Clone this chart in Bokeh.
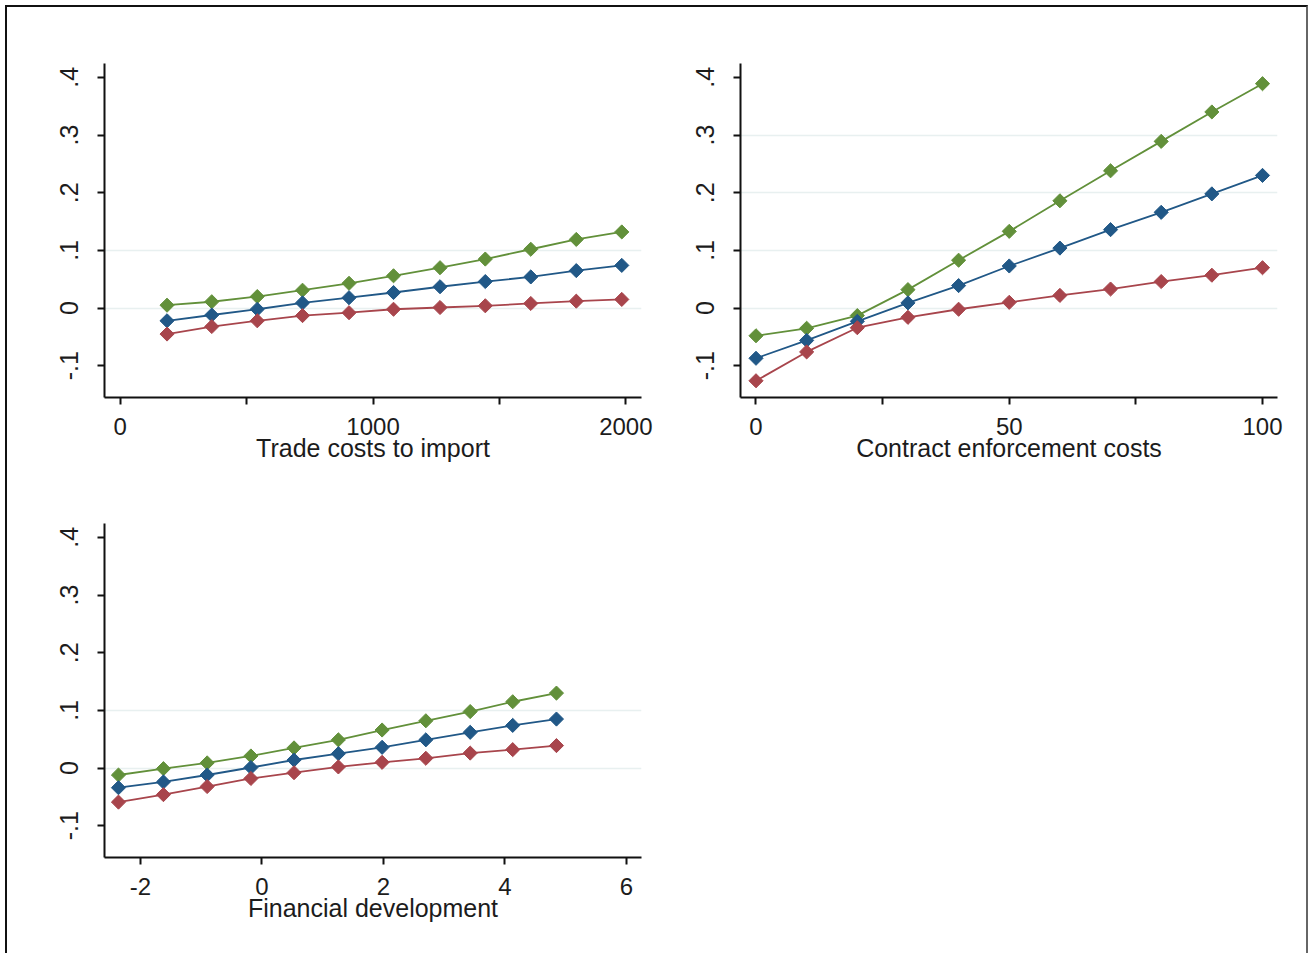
from bokeh.plotting import figure
from bokeh.layouts import column, row
from bokeh.models import FixedTicker, Range1d
from bokeh.embed import file_html
from bokeh.resources import INLINE

# ---------------- data ----------------
y_ticks = [-0.1, 0.0, 0.1, 0.2, 0.3, 0.4]
y_tick_labels = ["-.1", "0", ".1", ".2", ".3", ".4"]

# Panel 1: Trade costs to import
x1 = [185, 362, 542, 721, 905, 1081, 1265, 1444, 1624, 1804, 1984]
green1 = [0.005, 0.011, 0.020, 0.031, 0.043, 0.056, 0.070, 0.085, 0.102, 0.119, 0.132]
blue1 = [-0.022, -0.012, -0.002, 0.009, 0.018, 0.027, 0.037, 0.046, 0.054, 0.065, 0.074]
red1 = [-0.045, -0.032, -0.022, -0.013, -0.008, -0.002, 0.001, 0.004, 0.008, 0.012, 0.015]
x1_ticks = [0, 500, 1000, 1500, 2000]
x1_labels = ["0", "", "1000", "", "2000"]
x1_title = "Trade costs to import"

# Panel 2: Contract enforcement costs
x2 = [0, 10, 20, 30, 40, 50, 60, 70, 80, 90, 100]
green2 = [-0.048, -0.035, -0.013, 0.032, 0.083, 0.133, 0.186, 0.238, 0.289, 0.340, 0.389]
blue2 = [-0.087, -0.056, -0.023, 0.009, 0.039, 0.073, 0.104, 0.136, 0.166, 0.198, 0.230]
red2 = [-0.126, -0.076, -0.034, -0.016, -0.002, 0.010, 0.022, 0.033, 0.046, 0.057, 0.070]
x2_ticks = [0, 25, 50, 75, 100]
x2_labels = ["0", "", "50", "", "100"]
x2_title = "Contract enforcement costs"

# Panel 3: Financial development
x3 = [-2.36, -1.62, -0.90, -0.18, 0.53, 1.26, 1.98, 2.70, 3.43, 4.13, 4.85]
green3 = [-0.012, -0.001, 0.009, 0.021, 0.035, 0.049, 0.066, 0.082, 0.098, 0.115, 0.130]
blue3 = [-0.034, -0.024, -0.012, 0.001, 0.014, 0.025, 0.036, 0.049, 0.062, 0.074, 0.085]
red3 = [-0.059, -0.046, -0.032, -0.018, -0.008, 0.002, 0.010, 0.017, 0.026, 0.032, 0.039]
x3_ticks = [-2, 0, 2, 4, 6]
x3_labels = ["-2", "0", "2", "4", "6"]
x3_title = "Financial development"

# ---------------- style ----------------
GREEN = "#62903a"
BLUE = "#215887"
RED = "#a8454c"
FONT = "Liberation Sans"
TEXT = "#1c1c1c"
Y_RANGE = (-0.155, 0.424)


def make_panel(x, greens, blues, reds, xt, xl, xr, title, grid_vals,
               width, height, mbl, mbr, mbt, mbb):
    p = figure(width=width, height=height,
               x_range=Range1d(*xr), y_range=Range1d(*Y_RANGE),
               output_backend="svg", toolbar_location=None,
               min_border_left=mbl, min_border_right=mbr,
               min_border_top=mbt, min_border_bottom=mbb)
    p.outline_line_color = None
    p.background_fill_color = "white"
    p.border_fill_color = "white"

    p.xgrid.visible = False
    p.ygrid.ticker = FixedTicker(ticks=grid_vals)
    p.ygrid.grid_line_color = "#e8f0f0"
    p.ygrid.grid_line_width = 1.5

    for ax in (p.xaxis[0], p.yaxis[0]):
        ax.axis_line_width = 2
        ax.axis_line_color = "#111111"
        ax.major_tick_line_width = 2
        ax.major_tick_line_color = "#111111"
        ax.major_tick_out = 7
        ax.major_tick_in = 0
        ax.minor_tick_line_color = None
        ax.major_label_text_font = FONT
        ax.major_label_text_color = TEXT

    p.xaxis.ticker = FixedTicker(ticks=xt)
    p.xaxis.major_label_overrides = dict(zip(xt, xl))
    p.xaxis.major_label_text_font_size = "24px"
    p.xaxis.major_label_standoff = 13
    p.xaxis.axis_label = title
    p.xaxis.axis_label_text_font = FONT
    p.xaxis.axis_label_text_font_size = "25px"
    p.xaxis.axis_label_text_font_style = "normal"
    p.xaxis.axis_label_text_color = TEXT
    p.xaxis.axis_label_standoff = -4

    p.yaxis.ticker = FixedTicker(ticks=y_ticks)
    p.yaxis.major_label_overrides = dict(zip(y_ticks, y_tick_labels))
    p.yaxis.major_label_orientation = "vertical"
    p.yaxis.major_label_text_font_size = "25px"
    p.yaxis.major_label_standoff = 19

    for ys, col in ((greens, GREEN), (blues, BLUE), (reds, RED)):
        p.line(x, ys, line_color=col, line_width=1.8)
        p.scatter(x, ys, marker="square", angle=0.785398, size=10,
                  fill_color=col, line_color=col, line_width=1)
    return p


p1 = make_panel(x1, green1, blue1, red1, x1_ticks, x1_labels, (-62.4, 2062),
                x1_title, [0.0, 0.1], 650, 475, 97, 16, 56, 85)
p2 = make_panel(x2, green2, blue2, red2, x2_ticks, x2_labels, (-3.06, 102.96),
                x2_title, [0.0, 0.1, 0.2, 0.3], 649, 475, 83, 29, 56, 85)
p3 = make_panel(x3, green3, blue3, red3, x3_ticks, x3_labels, (-2.59, 6.25),
                x3_title, [0.0, 0.1], 650, 471, 97, 16, 41, 96)

layout = column(row(p1, p2), row(p3),
                styles={"margin": "5px 0 0 5px",
                        "border-left": "2px solid #111",
                        "border-top": "2px solid #111",
                        "border-right": "2px solid #666",
                        "background": "white"})

open("out.html", "w").write(file_html(layout, INLINE))
